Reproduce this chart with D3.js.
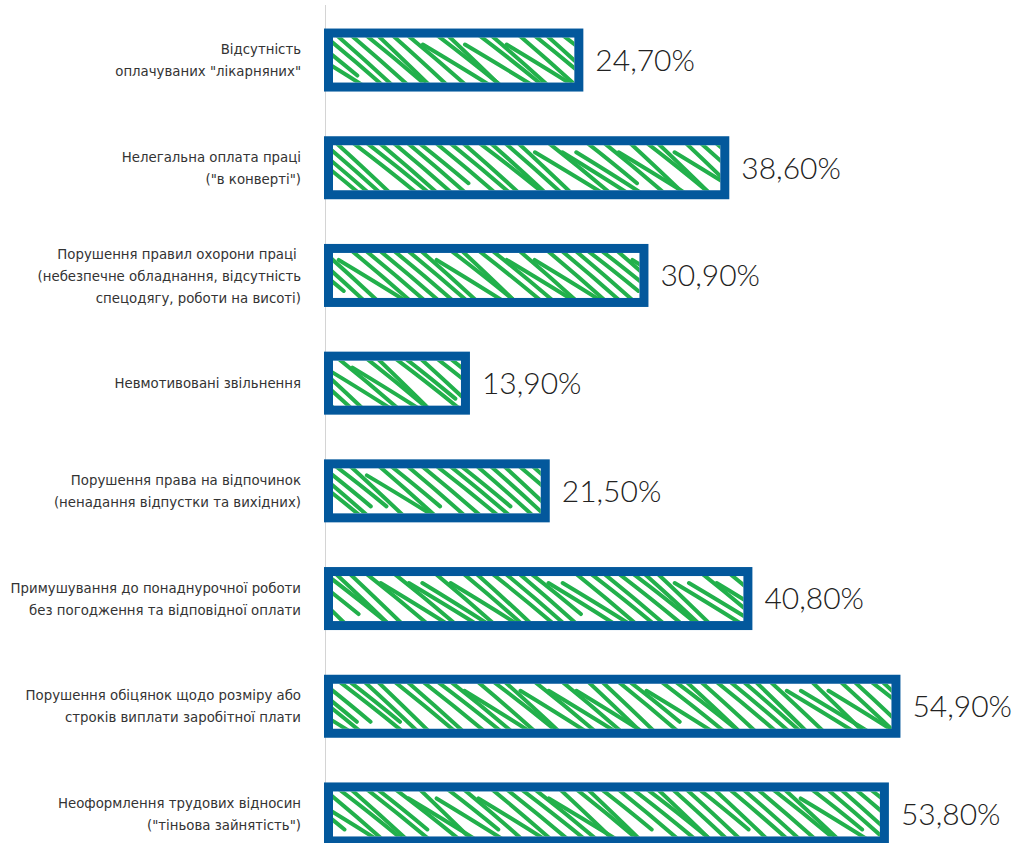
<!DOCTYPE html>
<html>
<head>
<meta charset="utf-8">
<script src="https://cdn.jsdelivr.net/npm/d3@7"></script>
<style>
  body { margin: 0; background: #fff; }
  .lbl { font-family: "DejaVu Sans Condensed", "DejaVu Sans", sans-serif; font-size: 14.8px; fill: #333; }
  .val { font-family: Lato, "Open Sans", sans-serif; font-weight: 300; font-size: 30px; fill: #222; }
</style>
</head>
<body>
<script>
// categories (lines of each label) and values
const categories = [
  ["Відсутність", "оплачуваних \"лікарняних\""],
  ["Нелегальна оплата праці", "(\"в конверті\")"],
  ["Порушення правил охорони праці ", "(небезпечне обладнання, відсутність", "спецодягу, роботи на висоті)"],
  ["Невмотивовані звільнення"],
  ["Порушення права на відпочинок", "(ненадання відпустки та вихідних)"],
  ["Примушування до понаднурочної роботи", "без погодження та відповідної оплати"],
  ["Порушення обіцянок щодо розміру або", "строків виплати заробітної плати"],
  ["Неоформлення трудових відносин", "(\"тіньова зайнятість\")"]
];
const values = [24.7, 38.6, 30.9, 13.9, 21.5, 40.8, 54.9, 53.8];
const valueLabels = ["24,70%", "38,60%", "30,90%", "13,90%", "21,50%", "40,80%", "54,90%", "53,80%"];

const W = 1035, H = 843;
const blue = "#03589c", green = "#22b04b";

const svg = d3.select("body").append("svg")
  .attr("width", W)
  .attr("height", H);

const data = values.map((v, i) => ({v, lines: categories[i], label: valueLabels[i], i}));

// scales
const x = d3.scaleLinear().domain([0, 60]).range([324, 324 + 60 * 10.5]);
const y = d3.scaleBand()
  .domain(d3.range(data.length))
  .range([7, 867])
  .paddingInner(0.415)
  .paddingOuter(0.2);

// axis line
svg.append("line")
  .attr("x1", 325.5).attr("x2", 325.5)
  .attr("y1", 5).attr("y2", H)
  .attr("stroke", "#d4d4d4");

const bw = 9; // border width
const defs = svg.append("defs");

const bars = svg.selectAll("g.bar").data(data).join("g").attr("class", "bar");

bars.each(function(d) {
  const g = d3.select(this);
  const x0 = x(0), x1 = x(d.v);
  const y0 = y(d.i), h = y.bandwidth();
  const ix = x0 + bw, iy = y0 + bw, iw = x1 - x0 - 2 * bw, ih = h - 2 * bw;

  defs.append("clipPath").attr("id", "clip" + d.i)
    .append("rect").attr("x", ix).attr("y", iy).attr("width", iw).attr("height", ih);

  g.append("rect")
    .attr("x", ix).attr("y", iy).attr("width", iw).attr("height", ih)
    .attr("fill", "#fff");

  // hand-drawn hatch strokes (deterministic wobble)
  const hatch = g.append("g").attr("clip-path", `url(#clip${d.i})`);
  const step = 14;
  const n = Math.ceil((iw + 70) / step);
  for (let k = 0; k < n; k++) {
    const j = Math.sin(k * 12.9898 + d.i * 78.233) * 43758.5453;
    const r = j - Math.floor(j);
    const xs = ix - 55 + k * step + r * 5;
    const len = 50 + r * 18;
    const y1 = iy - 3 + (r > 0.85 ? 10 : 0);
    const y2 = iy + ih + 3 - (r < 0.12 ? 10 : 0);
    const cx = xs + len * 0.5 + (r - 0.5) * 8;
    const cy = (y1 + y2) / 2 - 4 + r * 6;
    hatch.append("path")
      .attr("d", `M${xs},${y1} Q${cx},${cy} ${xs + len},${y2}`)
      .attr("fill", "none")
      .attr("stroke", green)
      .attr("stroke-width", 4)
      .attr("stroke-linecap", "round");
  }

  g.append("rect")
    .attr("x", x0 + bw / 2).attr("y", y0 + bw / 2)
    .attr("width", x1 - x0 - bw).attr("height", h - bw)
    .attr("fill", "none")
    .attr("stroke", blue)
    .attr("stroke-width", bw);

  g.append("text")
    .attr("class", "val")
    .attr("x", x1 + 12)
    .attr("y", y0 + h / 2)
    .attr("dy", "0.36em")
    .text(d.label);

  const lh = 22;
  const t = g.append("text")
    .attr("class", "lbl")
    .attr("text-anchor", "end")
    .attr("y", y0 + h / 2 - (d.lines.length - 1) * lh / 2);
  d.lines.forEach((line, li) => {
    t.append("tspan")
      .attr("x", 301)
      .attr("dy", li === 0 ? "0.35em" : lh)
      .style("white-space", "pre")
      .text(line);
  });
});
</script>
</body>
</html>
